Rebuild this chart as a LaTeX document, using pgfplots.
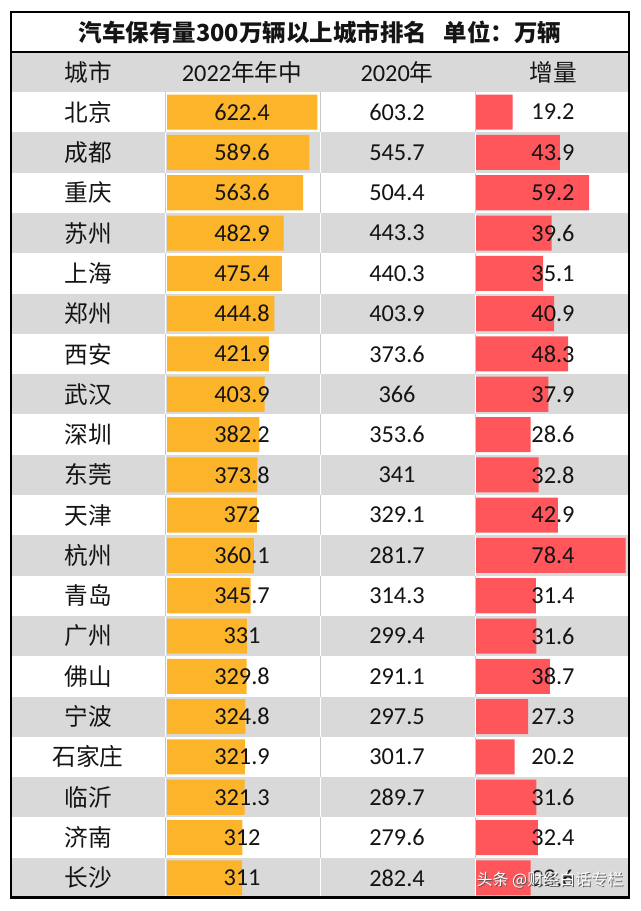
\documentclass[border=0pt]{standalone}
\usepackage{pgfplots}
\pgfplotsset{compat=1.18}
\usepackage{fontspec}
\setmainfont{Carlito}
\newfontfamily\cjk{Noto Sans CJK SC}
\definecolor{barO}{RGB}{252,180,42}
\definecolor{barR}{RGB}{255,86,92}
\definecolor{rowG}{RGB}{217,217,217}
\definecolor{sepG}{RGB}{200,200,200}
\definecolor{txt}{RGB}{20,20,20}
\begin{document}
\begin{tikzpicture}
\begin{scope}[x=0.6pt,y=-0.6pt]
\fill[white] (0,0) rectangle (640,911);
\fill[rowG] (11,52) rectangle (629,92);
\foreach \i in {2,4,...,20} { \fill[rowG] (11,{92+(\i-1)*40.3}) rectangle (629,{92+\i*40.3}); }
\foreach \i in {1,...,20} {
  \pgfmathsetmacro\rt{92+(\i-1)*40.3}
  \pgfmathsetmacro\rb{92+\i*40.3}
  \ifodd\i \def\sc{sepG}\else\def\sc{white}\fi
  \foreach \xx in {165,320,475} { \draw[\sc, line width=0.6pt] (\xx,\rt) -- (\xx,\rb); }
}
\coordinate (oA) at (167,92);
\coordinate (rA) at (476,92);
\end{scope}

\begin{axis}[at={(oA)}, anchor=north west, scale only axis, width=90.2pt, height=483.6pt,
  hide axis, xmin=0, xmax=622.4, ymin=0.5, ymax=20.5, y dir=reverse, xbar, bar width=0.87, clip=false]
\addplot[fill=barO, draw=none] coordinates {
(622.4,1) (589.6,2) (563.6,3) (482.9,4) (475.4,5) (444.8,6) (421.9,7) (403.9,8) (382.2,9) (373.8,10)
(372,11) (360.1,12) (345.7,13) (331,14) (329.8,15) (324.8,16) (321.9,17) (321.3,18) (312,19) (311,20)};
\end{axis}

\begin{axis}[at={(rA)}, anchor=north west, scale only axis, width=89.8pt, height=483.6pt,
  hide axis, xmin=0, xmax=78.4, ymin=0.5, ymax=20.5, y dir=reverse, xbar, bar width=0.87, clip=false]
\addplot[fill=barR, draw=none] coordinates {
(19.2,1) (43.9,2) (59.2,3) (39.6,4) (35.1,5) (40.9,6) (48.3,7) (37.9,8) (28.6,9) (32.8,10)
(42.9,11) (78.4,12) (31.4,13) (31.6,14) (38.7,15) (27.3,16) (20.2,17) (31.6,18) (32.4,19) (28.6,20)};
\end{axis}

\begin{scope}[x=0.6pt,y=-0.6pt]
\draw[black, line width=1.6pt] (11,12) rectangle (629,897.5);
\draw[black, line width=1.2pt] (11,52) -- (629,52);
\node[txt] at (320,32) {\cjk\bfseries\fontsize{14.1}{16}\selectfont 汽车保有量300万辆以上城市排名\hspace{0.7em}单位：万辆};
\node[txt] at (88,72) {\cjk\fontsize{14.2}{16}\selectfont 城市};
\node[txt] at (242,72) {\fontsize{14.6}{16}\selectfont 2022{\cjk\fontsize{14.2}{16}\selectfont 年年中}};
\node[txt] at (397,72) {\fontsize{14.6}{16}\selectfont 2020{\cjk\fontsize{14.2}{16}\selectfont 年}};
\node[txt] at (553,72) {\cjk\fontsize{14.2}{16}\selectfont 增量};
\foreach \c [count=\i] in {北京,成都,重庆,苏州,上海,郑州,西安,武汉,深圳,东莞,天津,杭州,青岛,广州,佛山,宁波,石家庄,临沂,济南,长沙}
  { \node[txt] at (88,{92+(\i-0.5)*40.3}) {\cjk\fontsize{14.2}{16}\selectfont \c}; }
\foreach \a/\b/\d [count=\i] in {622.4/603.2/19.2, 589.6/545.7/43.9, 563.6/504.4/59.2, 482.9/443.3/39.6,
  475.4/440.3/35.1, 444.8/403.9/40.9, 421.9/373.6/48.3, 403.9/366/37.9, 382.2/353.6/28.6, 373.8/341/32.8,
  372/329.1/42.9, 360.1/281.7/78.4, 345.7/314.3/31.4, 331/299.4/31.6, 329.8/291.1/38.7, 324.8/297.5/27.3,
  321.9/301.7/20.2, 321.3/289.7/31.6, 312/279.6/32.4, 311/282.4/28.6}
  {
  \node[txt] at (242,{92+(\i-0.5)*40.3}) {\fontsize{14.6}{16}\selectfont \a};
  \node[txt] at (397,{92+(\i-0.5)*40.3}) {\fontsize{14.6}{16}\selectfont \b};
  \node[txt] at (553,{92+(\i-0.5)*40.3}) {\fontsize{14.6}{16}\selectfont \d};
  }
\node[gray!70!black] at (551,881) {\cjk\fontsize{9.6}{11}\selectfont 头条 @财经白话专栏};
\node[white] at (550,880) {\cjk\fontsize{9.6}{11}\selectfont 头条 @财经白话专栏};
\end{scope}
\end{tikzpicture}
\end{document}
